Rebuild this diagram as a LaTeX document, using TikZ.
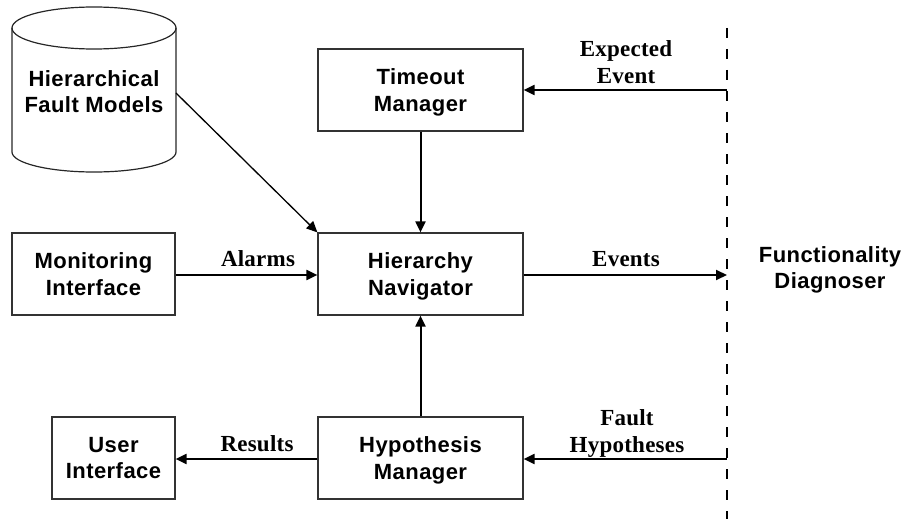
\documentclass[tikz,border=0pt]{standalone}
\usepackage{fontspec}
\usetikzlibrary{arrows.meta}
\newfontfamily\boxfont{Liberation Sans}[LetterSpace=2]
\newfontfamily\labfont{Liberation Serif}[LetterSpace=1]
\begin{document}
\begin{tikzpicture}[x=1pt,y=-1pt,
  block/.style={draw=black!80,line width=1.2pt,rectangle,inner sep=0pt,
    minimum height=82pt,align=center,text depth=0pt,
    font=\boxfont\bfseries\fontsize{22}{26.5}\selectfont},
  flow/.style={line width=2pt,-{Triangle[length=11pt,width=10pt]}},
  thinflow/.style={line width=1.3pt,-{Triangle[length=11pt,width=10pt]}},
  lab/.style={align=center,inner sep=0pt,text depth=0pt,
    font=\labfont\bfseries\fontsize{23}{26.5}\selectfont},
  side/.style={align=center,inner sep=0pt,text depth=0pt,
    font=\boxfont\bfseries\fontsize{22}{26}\selectfont}]
\useasboundingbox (0,0) rectangle (906,519);

% fault model store drawn as a cylinder
\draw[draw=black!85,line width=1.2pt]
  (12,28) -- (12,152) arc[start angle=180,end angle=360,x radius=82pt,y radius=20pt]
  -- (176,28);
\draw[draw=black!85,line width=1.2pt] (94,28) ellipse[x radius=82pt,y radius=21pt];
\node[side] (hfm) at (94,92) {Hierarchical\\Fault Models};
\coordinate (hfmout) at (176,93);

% component blocks
\node[block,minimum width=205pt] (tm) at (420.5,90) {Timeout\\Manager};
\node[block,minimum width=205pt] (hn) at (420.5,274) {Hierarchy\\Navigator};
\node[block,minimum width=163pt] (mi) at (93.5,274) {Monitoring\\Interface};
\node[block,minimum width=205pt] (hm) at (420.5,458) {Hypothesis\\Manager};
\node[block,minimum width=123pt] (ui) at (113.5,458) {User\\Interface};

% boundary of the functionality diagnoser
\coordinate (dtop) at (727,28);
\coordinate (dbot) at (727,519);
\draw[line width=1.3pt,dash pattern=on 10pt off 11pt] (dtop) -- (dbot);
\node[side] (fd) at (830,268) {Functionality\\Diagnoser};

\coordinate (expin) at (727,90);
\coordinate (evout) at (727,275);
\coordinate (fhin) at (727,459);

% connectors
\draw[thinflow] (hfmout) -- (hn.north west);
\draw[flow] (tm) -- (hn);
\draw[flow] (hm) -- (hn);
\draw[flow] (expin) -- (tm.east |- expin);
\draw[flow] (mi.east |- evout) -- (hn.west |- evout);
\draw[flow] (hn.east |- evout) -- (evout);
\draw[flow] (fhin) -- (hm.east |- fhin);
\draw[flow] (hm.west |- fhin) -- (ui.east |- fhin);

% connector labels
\node[lab] (lexp) at (626,62) {Expected\\Event};
\node[lab] (lal) at (258,259) {Alarms};
\node[lab] (lev) at (626,259) {Events};
\node[lab] (lfh) at (627,431) {Fault\\Hypotheses};
\node[lab] (lres) at (257,444) {Results};
\end{tikzpicture}
\end{document}
